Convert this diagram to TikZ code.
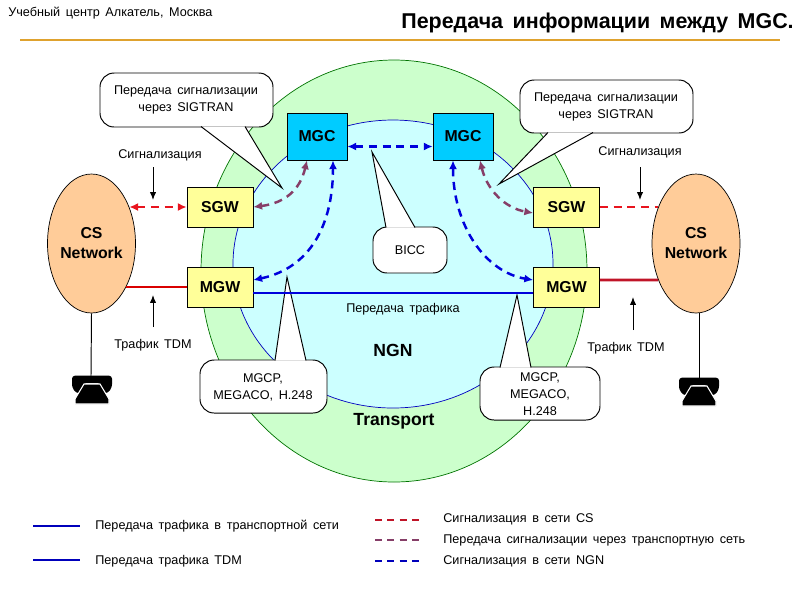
\documentclass[tikz,border=0pt]{standalone}
\usepackage{fontspec}
\setmainfont{Liberation Sans}[WordSpace=1.6]
\usetikzlibrary{shapes.geometric,arrows.meta}
\definecolor{gwyellow}{HTML}{FFFF99}
\definecolor{mgcblue}{HTML}{00CCFF}
\definecolor{csorange}{HTML}{FFCC99}
\definecolor{transgreen}{HTML}{CCFFCC}
\definecolor{ngncyan}{HTML}{CCFFFF}
\definecolor{sigred}{HTML}{E8141E}
\definecolor{tdmred}{HTML}{C01428}
\definecolor{sigpurple}{HTML}{863E68}
\definecolor{ngnblue}{HTML}{0000DC}
\definecolor{rulegold}{HTML}{DFA22E}
\newcommand{\calltip}[3]{\fill[white] (#1) -- (#2) -- (#3) -- cycle; \draw[line width=0.55pt] (#1) -- (#2) -- (#3);}
\tikzset{
  txt/.style={font=\fontsize{7.2}{9.6}\selectfont,align=center,inner sep=0pt},
  bigtxt/.style={font=\fontsize{10}{12}\selectfont\bfseries,align=center,inner sep=0pt},
  gwbox/.style={draw,fill=gwyellow,minimum width=1.32cm,minimum height=0.8cm,inner sep=0pt,font=\fontsize{9}{11.4}\selectfont\bfseries},
  mgcbox/.style={gwbox,fill=mgcblue,minimum width=1.2cm,minimum height=0.94cm},
  csnet/.style={draw,ellipse,fill=csorange,minimum width=1.76cm,minimum height=2.78cm,inner ysep=0pt,inner xsep=-1pt,align=center,font=\fontsize{9}{11.4}\selectfont\bfseries},
  callbox/.style={draw,fill=white,line width=0.55pt,rounded corners=8},
  blueln/.style={line width=1.4pt,ngnblue,dash pattern=on 4.6pt off 3.2pt,{Latex[length=5pt,width=4.6pt]}-{Latex[length=5pt,width=4.6pt]}},
  purpleln/.style={blueln,sigpurple},
  redln/.style={blueln,sigred},
  lbarrow/.style={-{Latex[length=4.5pt,width=3.6pt]},line width=0.55pt},
  phone/.pic={
    \fill[rounded corners=1.5] (-20,-14) -- (-15,-14.5) -- (15,-14.5) -- (20,-14) -- (20,-3) -- (16,3) -- (11,3) -- (8,-7) -- (-8,-7) -- (-11,3) -- (-16,3) -- (-20,-3) -- cycle;
    \fill[draw=white,line width=0.6pt] (-8,-6) -- (8,-6) -- (17,9) -- (17,14) -- (-17,14) -- (-17,9) -- cycle;
  }
}
\begin{document}
\begin{tikzpicture}[x=0.02cm,y=-0.02cm]
\useasboundingbox (0,0) rectangle (800,600);
\node[txt,anchor=west] (school) at (8,13) {Учебный центр Алкатель, Москва};
\node[anchor=east,inner sep=0pt,font=\fontsize{12.2}{14}\selectfont\bfseries] (title) at (794,23) {Передача информации между MGC.};
\draw[rulegold,line width=1.1pt] (20,40) -- (780,40);
\draw[draw=green!45!black,fill=transgreen,line width=0.4pt] (394,271) ellipse (193 and 211);
\draw[draw=blue!75!black,fill=ngncyan,line width=0.4pt] (393,264) ellipse (160 and 144);
\node[txt] (traffic) at (403,309) {Передача трафика};
\node[bigtxt] (ngn) at (393,350) {NGN};
\node[bigtxt] (transport) at (394,421) {Transport};
\draw[callbox] (100,73) rectangle (273,127);
\calltip{245,126.5}{282,188}{201,126.5}
\draw[callbox] (520,80) rectangle (693,133);
\calltip{593,132.5}{499,184}{548,132.5}
\draw[callbox] (373,227) rectangle (447,273);
\calltip{386,227.5}{372,152}{415,227.5}
\draw[callbox] (200,360) rectangle (327,413);
\calltip{275,360.5}{287,277}{306,360.5}
\draw[callbox] (480,367) rectangle (600,420);
\calltip{500,367.5}{517,295}{531,367.5}
\node[txt] (sigtranl) at (186,100) {Передача сигнализации\\через SIGTRAN};
\node[txt] (sigtranr) at (606,107) {Передача сигнализации\\через SIGTRAN};
\node[txt] (bicc) at (410,250) {BICC};
\node[txt] (megacol) at (263,387) {MGCP,\\MEGACO, H.248};
\node[txt] (megacor) at (540,394) {MGCP,\\MEGACO,\\H.248};
\node[csnet] (csl) at (91.5,243.5) {CS\\Network};
\node[csnet] (csr) at (696,243.5) {CS\\Network};
\node[mgcbox] (mgcl) at (317,136.5) {MGC};
\node[mgcbox] (mgcr) at (463,136.5) {MGC};
\node[gwbox] (sgwl) at (220,207) {SGW};
\node[gwbox] (mgwl) at (220,287) {MGW};
\node[gwbox] (sgwr) at (566.5,207) {SGW};
\node[gwbox] (mgwr) at (566.5,287) {MGW};
\draw[redln] (csl.44 |- sgwl.west) -- (sgwl.west);
\draw[redln,-] (sgwr.east) -- (csr.136 |- sgwr.east);
\draw[red!85!black,line width=1.5pt] (csl.-52 |- mgwl.west) -- (mgwl.west);
\draw[tdmred,line width=1.5pt] ([yshift=0.14cm]mgwr.east) -- (csr.224 |- 0,280);
\draw[ngnblue,line width=1.3pt] ([yshift=-0.12cm]mgwl.east) -- ([yshift=-0.12cm]mgwr.west);
\draw[blueln] ([yshift=-0.2cm]mgcl.east) -- ([yshift=-0.2cm]mgcr.west);
\draw[purpleln] (sgwl.east) .. controls (285,203) and (300,190) .. ([xshift=-0.2cm]mgcl.south);
\draw[blueln] ([yshift=0.14cm]mgwl.east) .. controls (310,268) and (333,225) .. ([xshift=0.32cm]mgcl.south);
\draw[purpleln] ([xshift=0.34cm]mgcr.south) .. controls (487,190) and (505,208) .. ([yshift=-0.12cm]sgwr.west);
\draw[blueln] ([xshift=-0.2cm]mgcr.south) .. controls (453,225) and (485,272) .. ([yshift=0.14cm]mgwr.west);
\node[txt] (sigl) at (160,155) {Сигнализация};
\node[txt] (sigr) at (640,152) {Сигнализация};
\node[txt] (tdml) at (153,345) {Трафик TDM};
\node[txt] (tdmr) at (626,348) {Трафик TDM};
\coordinate (sigla) at (153,167);
\coordinate (siglb) at (153,200);
\coordinate (sigra) at (640,167);
\coordinate (sigrb) at (640,200);
\coordinate (tdmla) at (153,327);
\coordinate (tdmlb) at (153,295);
\coordinate (tdmra) at (633,330);
\coordinate (tdmrb) at (633,297);
\draw[lbarrow] (sigla) -- (siglb);
\draw[lbarrow] (sigra) -- (sigrb);
\draw[lbarrow] (tdmla) -- (tdmlb);
\draw[lbarrow] (tdmra) -- (tdmrb);
\coordinate (phl) at (91,376);
\coordinate (phr) at (699,378);
\draw[line width=0.55pt] (csl.south) -- (phl);
\draw[line width=0.55pt] (phr |- csr.south) -- (phr);
\pic at (92,390) {phone};
\pic at (699,392) {phone};
\draw[ngnblue!85!black,line width=1.2pt] (33,526) -- (80,526);
\draw[ngnblue!85!black,line width=1.2pt] (33,560) -- (80,560);
\draw[tdmred,line width=1.2pt,dash pattern=on 4pt off 3pt] (375,520) -- (420,520);
\draw[sigpurple,line width=1.2pt,dash pattern=on 4pt off 3pt] (375,540) -- (420,540);
\draw[ngnblue!85!black,line width=1.2pt,dash pattern=on 4pt off 3pt] (375,561) -- (420,561);
\node[txt,anchor=west] (legtrans) at (95,526) {Передача трафика в транспортной сети};
\node[txt,anchor=west] (legtdm) at (95,561) {Передача трафика TDM};
\node[txt,anchor=west] (legcs) at (443,519) {Сигнализация в сети CS};
\node[txt,anchor=west] (legsig) at (443,540) {Передача сигнализации через транспортную сеть};
\node[txt,anchor=west] (legngn) at (443,561) {Сигнализация в сети NGN};
\end{tikzpicture}
\end{document}
